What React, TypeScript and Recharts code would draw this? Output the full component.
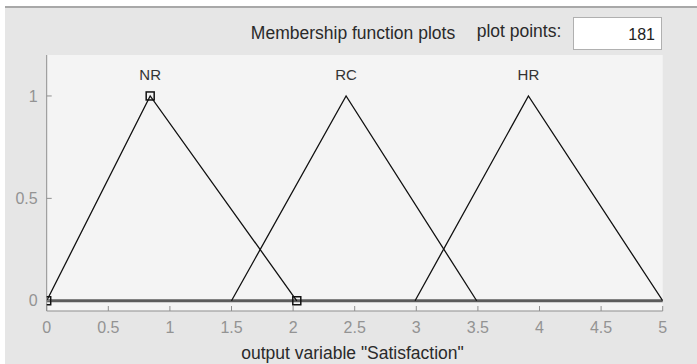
import React from 'react';
import { ComposedChart, Line, XAxis, YAxis, ReferenceLine, ReferenceDot, CartesianGrid } from 'recharts';

const mfNames = ['NR', 'RC', 'HR'];
const nrPoints = [{ x: 0, y: 0 }, { x: 0.84, y: 1 }, { x: 2.03, y: 0 }];
const rcPoints = [{ x: 1.5, y: 0 }, { x: 2.43, y: 1 }, { x: 3.49, y: 0 }];
const hrPoints = [{ x: 2.99, y: 0 }, { x: 3.91, y: 1 }, { x: 5, y: 0 }];
const mfPeaks = [0.84, 2.43, 3.91];
const xTicks = [0, 0.5, 1, 1.5, 2, 2.5, 3, 3.5, 4, 4.5, 5];
const yTicks = [0, 0.5, 1];
const plotPoints = '181';
const title = 'Membership function plots';
const xLabel = 'output variable "Satisfaction"';

const FONT = '"Liberation Sans", Arial, sans-serif';
const AXIS = '#8f8f8f';

const Square = (props: any) => {
  const { cx, cy } = props;
  if (cx == null || cy == null) return null;
  return <rect x={cx - 4} y={cy - 4} width={8} height={8} fill="none" stroke="#111" strokeWidth={1.5} />;
};

export default function App() {
  return (
    <div style={{ position: 'absolute', left: 0, top: 0, width: 697, height: 364, background: '#ffffff', overflow: 'hidden', fontFamily: FONT }}>
      <div style={{ position: 'absolute', left: 5, top: 6, width: 692, height: 358, background: '#e6e6e6', borderTop: '2px solid #a8a8a8' }} />
      <div style={{ position: 'absolute', left: 0, top: 0 }}>
        <ComposedChart width={697} height={364} margin={{ top: 55, right: 34.3, bottom: 33, left: 6.7 }}>
          <CartesianGrid fill="#f4f4f4" horizontal={false} vertical={false} />
          <XAxis type="number" dataKey="x" domain={[0, 5]} ticks={xTicks} allowDataOverflow
            height={20} tickSize={-5} tickMargin={15.6} stroke={AXIS}
            tick={{ fill: '#939393', fontSize: 16, fontFamily: FONT }} interval={0} />
          <XAxis xAxisId="top" orientation="top" type="number" dataKey="x" domain={[0, 5]} ticks={xTicks}
            height={0} tickSize={-5} tick={false} stroke={AXIS} interval={0} />
          <YAxis type="number" domain={[-0.05, 1.2]} ticks={yTicks} allowDataOverflow width={40}
            tickSize={-5} tickMargin={14} stroke={AXIS}
            tick={{ fill: '#939393', fontSize: 16, fontFamily: FONT }} interval={0} />
          <YAxis yAxisId="right" orientation="right" type="number" domain={[-0.05, 1.2]} ticks={yTicks}
            width={0} tickSize={-5} tick={false} stroke={AXIS} interval={0} />
          <ReferenceLine y={0} stroke="#5c5c5c" strokeWidth={3} />
          <Line data={rcPoints} dataKey="y" stroke="#111" strokeWidth={1.3} dot={false} isAnimationActive={false} />
          <Line data={hrPoints} dataKey="y" stroke="#111" strokeWidth={1.3} dot={false} isAnimationActive={false} />
          <Line data={nrPoints} dataKey="y" stroke="#111" strokeWidth={1.3} dot={<Square />} activeDot={false} isAnimationActive={false} />
          {mfNames.map((n, i) => (
            <ReferenceDot key={n} x={mfPeaks[i]} y={1.105} r={0} stroke="none" fill="none"
              label={{ value: n, position: 'center', fill: '#333', fontSize: 15, fontFamily: FONT }} />
          ))}
        </ComposedChart>
      </div>
      <div style={{ position: 'absolute', left: 230, top: 23, width: 246, textAlign: 'center', fontSize: 17.5, lineHeight: '20px', color: '#2a2a2a', whiteSpace: 'nowrap' }}>{title}</div>
      <div style={{ position: 'absolute', left: 469, top: 20.5, width: 100, textAlign: 'center', fontSize: 17.5, lineHeight: '20px', color: '#2a2a2a', whiteSpace: 'nowrap' }}>plot points:</div>
      <div style={{ position: 'absolute', left: 573, top: 17, width: 89, height: 33, boxSizing: 'border-box', background: '#fff', border: '1px solid #b0b0b0', textAlign: 'right', paddingRight: 6, lineHeight: '33px', fontSize: 16, color: '#222' }}>{plotPoints}</div>
      <div style={{ position: 'absolute', left: 180, top: 343, width: 345, textAlign: 'center', fontSize: 17.5, lineHeight: '20px', color: '#2a2a2a', whiteSpace: 'nowrap' }}>{xLabel}</div>
    </div>
  );
}
